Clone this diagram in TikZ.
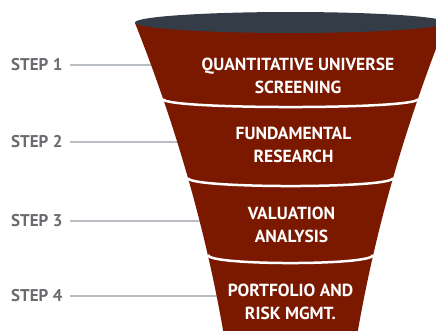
\documentclass[tikz,border=0pt]{standalone}
\usepackage{fontspec}
\setmainfont{PT Sans}

\definecolor{funnelred}{RGB}{123,24,0}
\definecolor{rimgray}{RGB}{52,61,71}
\definecolor{stepgray}{RGB}{106,107,111}
\definecolor{leadgray}{RGB}{185,190,196}

\tikzset{
	steplabel/.style={anchor=west, inner sep=0pt, text=stepgray, font=\bfseries\fontsize{17bp}{20bp}\selectfont},
	stagetext/.style={text=white, align=center, font=\bfseries\fontsize{17.5bp}{23bp}\selectfont},
	divider/.style={white, line width=2.5bp},
}

\begin{document}
\begin{tikzpicture}[x=1bp, y=-1bp]
		\useasboundingbox (0,0) rectangle (436,330);
		\clip (0,0) rectangle (436,330);
		
		% step labels and their leader lines
		\foreach \n/\y in {1/65, 2/142, 3/221, 4/296}{
			\node[steplabel] (step\n) at (11,\y) {STEP \n};
			\coordinate (lead\n) at (240,\y);
			\draw[leadgray, line width=1.5bp] ([xshift=7bp]step\n.east) -- (lead\n);
		}
		
		% funnel body, rim on top
		\fill[funnelred] (135,23) .. controls (175.7,125.3) and (205.1,227.7) .. (223,330)
			-- (224,336) -- (357,336) -- (358,330)
			.. controls (375.9,227.7) and (405.3,125.3) .. (446,23) -- cycle;
		\fill[rimgray] (290.5,22.5) ellipse [x radius=155.5bp, y radius=10.5bp];
		
		% dividers between the stages
		\draw[divider] (163,99) .. controls +(0,10.7) and +(0,10.7) .. (418,99);
		\draw[divider] (188,178) .. controls +(0,10.7) and +(0,10.7) .. (393,178);
		\draw[divider] (208,255) .. controls +(0,10.7) and +(0,10.7) .. (373,255);
		
		\node[stagetext] (stage1) at (298,76) {QUANTITATIVE UNIVERSE\\SCREENING};
		\node[stagetext] (stage2) at (293.5,145) {FUNDAMENTAL\\RESEARCH};
		\node[stagetext] (stage3) at (291.5,225) {VALUATION\\ANALYSIS};
		\node[stagetext] (stage4) at (290.5,301.5) {PORTFOLIO AND\\RISK MGMT.};
	\end{tikzpicture}
\end{document}
